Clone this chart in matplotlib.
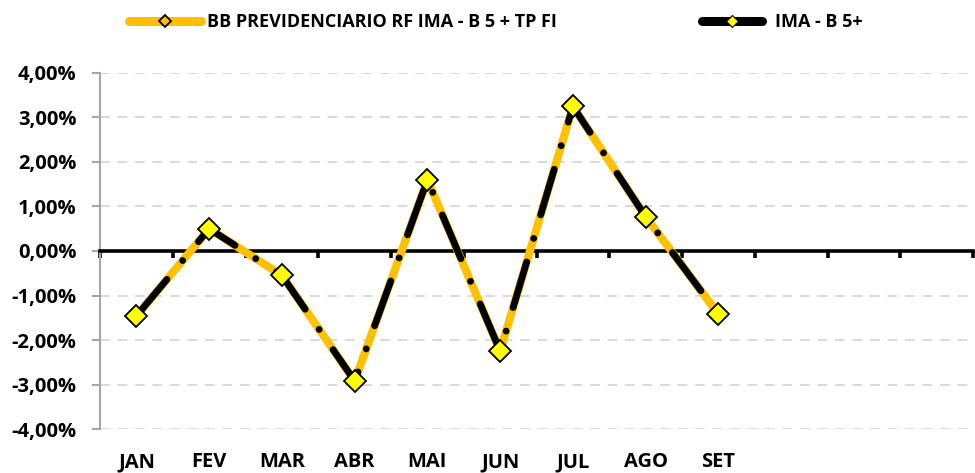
import matplotlib
matplotlib.use("Agg")
import matplotlib.pyplot as plt
from matplotlib.lines import Line2D
from matplotlib.transforms import blended_transform_factory
from matplotlib.ticker import FuncFormatter

plt.rcParams['font.family'] = ['Open Sans', 'DejaVu Sans']
plt.rcParams['font.weight'] = 'bold'

# --- Data (monthly returns, %) ---
months = ['JAN', 'FEV', 'MAR', 'ABR', 'MAI', 'JUN', 'JUL', 'AGO', 'SET']
n_slots = 12
fund_name = 'BB PREVIDENCIARIO RF IMA - B 5 + TP FI'
bench_name = 'IMA - B 5+'
fund = [-1.46, 0.50, -0.55, -2.92, 1.60, -2.25, 3.25, 0.77, -1.42]
bench = [-1.46, 0.50, -0.55, -2.92, 1.60, -2.25, 3.25, 0.77, -1.42]
y_ticks = [-4, -3, -2, -1, 0, 1, 2, 3, 4]

orange = '#FFC000'
yellow = '#FFFF00'

fig = plt.figure(figsize=(9.75, 4.73), dpi=100)
ax = fig.add_axes((0.1026, 0.093, 0.8954, 0.7527))

x = list(range(len(months)))

# --- Series ---
ax.plot(x, fund, color=orange, lw=5.8, solid_capstyle='round',
        solid_joinstyle='round', zorder=3)
ax.plot(x, bench, color='black', lw=4.9, dashes=(7, 3.6, 0.01, 3.6),
        dash_capstyle='round', zorder=4)
ax.plot(x, bench, ls='none', marker='D', ms=11.5, mfc=yellow, mec='black',
        mew=1.3, zorder=5)

# --- Axes styling ---
ax.set_xlim(-0.5, n_slots - 0.5)
ax.set_ylim(-4, 4)
ax.set_yticks(y_ticks)
ax.yaxis.set_major_formatter(FuncFormatter(lambda v, p: f'{v:.2f}%'.replace('.', ',')))
ax.yaxis.grid(True, color='#D9D9D9', lw=1.4, linestyle=(0, (5, 4)))
ax.set_axisbelow(True)

ax.spines['top'].set_visible(False)
ax.spines['right'].set_visible(False)
ax.spines['left'].set_color('#A6A6A6')
ax.spines['left'].set_linewidth(1.5)
ax.spines['bottom'].set_position(('data', 0))
ax.spines['bottom'].set_color('black')
ax.spines['bottom'].set_linewidth(2.6)
ax.spines['bottom'].set_zorder(2.5)

ax.tick_params(axis='y', colors='#A6A6A6', length=6, width=1.5, labelsize=14.5,
               labelcolor='black', pad=11)
for lbl in ax.get_yticklabels():
    lbl.set_fontweight('bold')
ax.set_xticks([i - 0.5 for i in range(n_slots + 1)])
ax.set_xticklabels([])
ax.tick_params(axis='x', direction='out', length=5, width=2.6, colors='black')

trans = blended_transform_factory(ax.transData, ax.transAxes)
for i, m in enumerate(months):
    ax.text(i, -0.093, m, transform=trans, ha='center', va='center',
            fontsize=14.5, fontweight='bold')

# --- Legend (two pieces so the handles can differ in length) ---
h_fund = Line2D([], [], color=orange, lw=6.5, solid_capstyle='round', marker='D',
                ms=6.5, mfc=orange, mec='black', mew=1.3)
h_bench = Line2D([], [], color='black', lw=6.5, solid_capstyle='round', marker='D',
                 ms=6.5, mfc=yellow, mec='black', mew=0.8)
leg1 = fig.legend([h_fund], [fund_name], loc='center left',
                  bbox_to_anchor=(0.132, 0.953), frameon=False, borderpad=0,
                  borderaxespad=0, handlelength=4.0, handletextpad=0.35,
                  prop={'weight': 'bold', 'size': 13})
leg2 = fig.legend([h_bench], [bench_name], loc='center left',
                  bbox_to_anchor=(0.72, 0.953), frameon=False, borderpad=0,
                  borderaxespad=0, handlelength=3.3, handletextpad=0.75,
                  prop={'weight': 'bold', 'size': 13})

fig.savefig('out.png', dpi=100)
